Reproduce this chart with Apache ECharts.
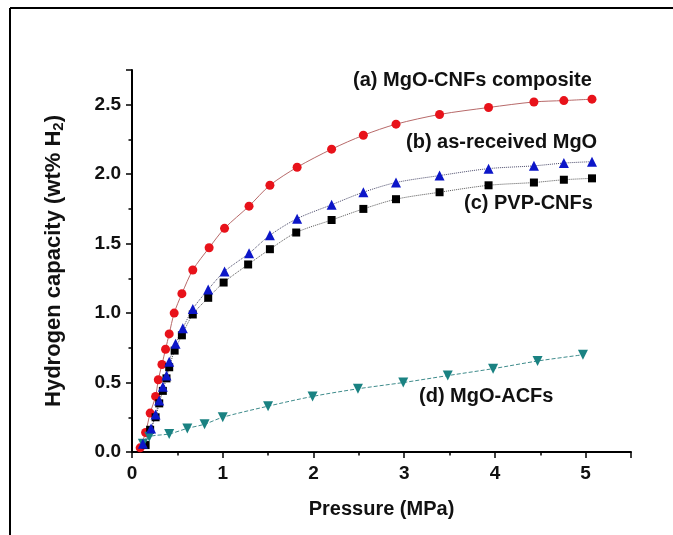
<!DOCTYPE html>
<html>
<head>
<meta charset="utf-8">
<script src="https://cdn.jsdelivr.net/npm/echarts@6/dist/echarts.min.js"></script>
<style>
  html, body { margin: 0; padding: 0; background: #fff; }
  #chart_1 { width: 673px; height: 535px; }
</style>
</head>
<body>
<div id="chart_1"></div>
<script>
// (a) MgO-CNFs composite
const aX = [0.09, 0.15, 0.20, 0.26, 0.29, 0.33, 0.37, 0.41, 0.465, 0.55, 0.67, 0.85, 1.02, 1.29, 1.52, 1.82, 2.20, 2.55, 2.91, 3.39, 3.93, 4.43, 4.76, 5.07];
const aY = [0.03, 0.14, 0.28, 0.40, 0.52, 0.63, 0.74, 0.85, 1.00, 1.14, 1.31, 1.47, 1.61, 1.77, 1.92, 2.05, 2.18, 2.28, 2.36, 2.43, 2.48, 2.52, 2.53, 2.54];
// (b) as-received MgO
const bX = [0.12, 0.21, 0.26, 0.30, 0.34, 0.38, 0.41, 0.48, 0.56, 0.67, 0.84, 1.02, 1.29, 1.52, 1.82, 2.20, 2.55, 2.91, 3.39, 3.93, 4.43, 4.76, 5.07];
const bY = [0.06, 0.17, 0.27, 0.37, 0.47, 0.55, 0.65, 0.78, 0.89, 1.03, 1.17, 1.30, 1.43, 1.56, 1.68, 1.78, 1.87, 1.94, 1.99, 2.04, 2.06, 2.08, 2.09];
// (c) PVP-CNFs
const cX = [0.15, 0.20, 0.26, 0.30, 0.34, 0.38, 0.41, 0.47, 0.55, 0.67, 0.84, 1.01, 1.28, 1.52, 1.81, 2.20, 2.55, 2.91, 3.39, 3.93, 4.43, 4.76, 5.07];
const cY = [0.05, 0.16, 0.25, 0.35, 0.44, 0.53, 0.61, 0.73, 0.84, 0.99, 1.11, 1.22, 1.35, 1.46, 1.58, 1.67, 1.75, 1.82, 1.87, 1.92, 1.94, 1.96, 1.97];
// (d) MgO-ACFs
const dX = [0.12, 0.19, 0.41, 0.61, 0.80, 1.00, 1.50, 1.99, 2.49, 2.99, 3.48, 3.98, 4.47, 4.97];
const dY = [0.06, 0.11, 0.13, 0.17, 0.20, 0.25, 0.33, 0.40, 0.455, 0.50, 0.55, 0.60, 0.655, 0.70];

const seriesNames = ['(a) MgO-CNFs composite', '(b) as-received MgO', '(c) PVP-CNFs', '(d) MgO-ACFs'];
const xTickLabels = ['0', '1', '2', '3', '4', '5'];
const yTickLabels = ['0.0', '0.5', '1.0', '1.5', '2.0', '2.5'];

const font = 'Liberation Sans, Arial, sans-serif';

function pairs(xs, ys) {
  return xs.map((x, i) => [x, ys[i]]);
}

const chart = echarts.init(document.getElementById('chart_1'), null, { renderer: 'canvas' });

chart.setOption({
  animation: false,
  backgroundColor: '#fff',
  grid: { left: 132, right: 42, top: 70, bottom: 83 },
  xAxis: {
    type: 'value',
    min: 0, max: 5.5, interval: 1,
    name: 'Pressure (MPa)',
    nameLocation: 'middle',
    nameGap: 47,
    nameTextStyle: { fontFamily: font, fontWeight: 'bold', fontSize: 20, color: '#111' },
    axisLine: { show: true, lineStyle: { color: '#000', width: 2 } },
    axisTick: { show: true, length: 6, lineStyle: { color: '#000', width: 1.5 } },
    minorTick: { show: true, splitNumber: 2, length: 3.5, lineStyle: { color: '#000', width: 1.5 } },
    splitLine: { show: false },
    axisLabel: {
      margin: 12, fontFamily: font, fontWeight: 'bold', fontSize: 19, color: '#111',
      formatter: v => (xTickLabels[Math.round(v)] !== undefined && v <= 5 ? xTickLabels[Math.round(v)] : '')
    }
  },
  yAxis: {
    type: 'value',
    min: 0, max: 2.75, interval: 0.5,
    axisLine: { show: true, lineStyle: { color: '#000', width: 2 } },
    axisTick: { show: true, length: 6, lineStyle: { color: '#000', width: 1.5 } },
    minorTick: { show: true, splitNumber: 2, length: 3.5, lineStyle: { color: '#000', width: 1.5 } },
    splitLine: { show: false },
    axisLabel: {
      margin: 11, fontFamily: font, fontWeight: 'bold', fontSize: 19, color: '#111',
      formatter: v => (v <= 2.5 ? yTickLabels[Math.round(v * 2)] : '')
    }
  },
  graphic: [
    // image frame (left + top edges)
    { type: 'line', shape: { x1: 10, y1: 8, x2: 10, y2: 535 }, style: { stroke: '#000', lineWidth: 2 } },
    { type: 'line', shape: { x1: 10, y1: 8, x2: 673, y2: 8 }, style: { stroke: '#000', lineWidth: 2 } },
    // y axis title with subscript
    {
      type: 'text', x: 54, y: 261, rotation: Math.PI / 2,
      style: {
        text: '{a|Hydrogen capacity (wt% H}{s|2}{a|)}',
        align: 'center', verticalAlign: 'middle',
        rich: {
          a: { font: 'bold 22px ' + font, fill: '#111' },
          s: { font: 'bold 15px ' + font, fill: '#111', padding: [10, 0, 0, 0] }
        }
      }
    },
    { type: 'text', x: 353, y: 80, style: { text: seriesNames[0], font: 'bold 20px ' + font, fill: '#111', verticalAlign: 'middle' } },
    { type: 'text', x: 406, y: 142, style: { text: seriesNames[1], font: 'bold 20px ' + font, fill: '#111', verticalAlign: 'middle' } },
    { type: 'text', x: 464, y: 203, style: { text: seriesNames[2], font: 'bold 20px ' + font, fill: '#111', verticalAlign: 'middle' } },
    { type: 'text', x: 419, y: 396, style: { text: seriesNames[3], font: 'bold 20px ' + font, fill: '#111', verticalAlign: 'middle' } }
  ],
  series: [
    {
      name: seriesNames[0], type: 'line', data: pairs(aX, aY), smooth: 0.3,
      symbol: 'circle', symbolSize: 9,
      itemStyle: { color: '#e8121a' },
      lineStyle: { color: '#b86a6a', width: 1 }
    },
    {
      name: seriesNames[2], type: 'line', data: pairs(cX, cY), smooth: 0.3,
      symbol: 'rect', symbolSize: 8,
      itemStyle: { color: '#000' },
      lineStyle: { color: '#555', width: 1, type: 'dotted' }
    },
    {
      name: seriesNames[3], type: 'line', data: pairs(dX, dY), smooth: 0.3,
      symbol: 'triangle', symbolSize: 10, symbolRotate: 180,
      itemStyle: { color: '#1a8282' },
      lineStyle: { color: '#3f8c8c', width: 1, type: 'dashed' }
    },
    {
      name: seriesNames[1], type: 'line', data: pairs(bX, bY), smooth: 0.3,
      symbol: 'triangle', symbolSize: 10,
      itemStyle: { color: '#0c16c8' },
      lineStyle: { color: '#4a4a6a', width: 1, type: 'dotted' }
    }
  ]
});
</script>
</body>
</html>
